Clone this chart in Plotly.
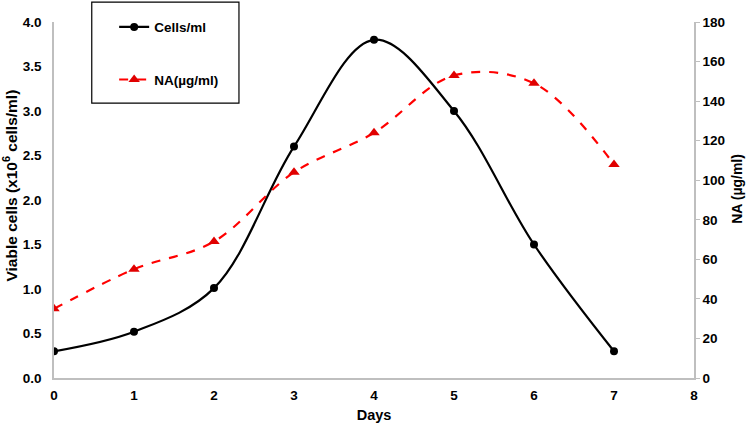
import plotly.graph_objects as go

days = [0, 1, 2, 3, 4, 5, 6, 7]
cells = [0.30, 0.52, 1.01, 2.60, 3.80, 3.00, 1.50, 0.30]
na = [35, 55, 69, 104, 124, 153, 149, 108]

x_ticks = [0, 1, 2, 3, 4, 5, 6, 7, 8]
left_ticks = [0.0, 0.5, 1.0, 1.5, 2.0, 2.5, 3.0, 3.5, 4.0]
right_ticks = [0, 20, 40, 60, 80, 100, 120, 140, 160, 180]

font_family = "Liberation Sans, Arial, sans-serif"
axis_color = "#bfbfbf"

fig = go.Figure()
fig.add_trace(go.Scatter(
    x=days, y=cells, name="<b>Cells/ml</b>", mode="lines+markers",
    line=dict(color="black", width=2.2, shape="spline", smoothing=1),
    marker=dict(symbol="circle", size=8, color="black"),
    legendgroup="a", yaxis="y"))
fig.add_trace(go.Scatter(
    x=days, y=na, name="<b>NA(µg/ml)</b>", mode="lines+markers",
    line=dict(color="#ff0000", width=2.2, dash="dash", shape="spline", smoothing=1),
    marker=dict(symbol="triangle-up", size=10, color="#e00000"),
    legendgroup="b", yaxis="y2"))

tickfont = dict(family=font_family, size=13.5, color="black")

fig.update_layout(
    width=749, height=423,
    margin=dict(l=54, r=55, t=22, b=45, autoexpand=False),
    paper_bgcolor="white", plot_bgcolor="white",
    showlegend=True,
    legend=dict(x=0.094, y=1.029, xanchor="left", yanchor="top",
                bgcolor="rgba(0,0,0,0)", borderwidth=0,
                traceorder="grouped", tracegroupgap=32,
                font=dict(family=font_family, size=13.5, color="black")),
    xaxis=dict(range=[0, 8], tickvals=x_ticks, ticktext=[f"<b>{v}</b>" for v in x_ticks],
               showgrid=False, zeroline=False, showline=True, linecolor=axis_color,
               linewidth=1.5, ticks="", tickfont=tickfont, automargin=False,
               ticklabelstandoff=4,
               title=dict(text="<b>Days</b>", font=dict(family=font_family, size=14.5, color="black"),
                          standoff=8)),
    yaxis=dict(range=[0, 4], tickvals=left_ticks,
               ticktext=[f"<b>{v:.1f}</b>" for v in left_ticks],
               showgrid=False, zeroline=False, showline=True, linecolor=axis_color,
               linewidth=1.5, ticks="", tickfont=tickfont, automargin=False,
               ticklabelstandoff=8),
    yaxis2=dict(range=[0, 180], tickvals=right_ticks,
                ticktext=[f"<b>{v}</b>" for v in right_ticks],
                overlaying="y", side="right",
                showgrid=False, zeroline=False, showline=True, linecolor=axis_color,
                linewidth=1.5, ticks="outside", ticklen=4, tickcolor=axis_color,
                tickfont=tickfont, automargin=False),
    annotations=[
        dict(text="<b>Viable cells (x10<sup>6</sup> cells/ml)</b>", textangle=-90,
             xref="paper", yref="paper", x=-0.068, y=0.542,
             xanchor="center", yanchor="middle", showarrow=False,
             font=dict(family=font_family, size=15.5, color="black")),
        dict(text="<b>NA (µg/ml)</b>", textangle=-90,
             xref="paper", yref="paper", x=1.067, y=0.531,
             xanchor="center", yanchor="middle", showarrow=False,
             font=dict(family=font_family, size=14, color="black")),
    ],
    shapes=[dict(type="rect", xref="paper", yref="paper",
                 x0=0.059, x1=0.289, y0=0.772, y1=1.056,
                 line=dict(color="black", width=1.2), fillcolor="rgba(0,0,0,0)")],
)

fig.write_html("out.html", config={"displayModeBar": False},
               post_script="document.body.style.margin='0';document.body.style.overflow='hidden';")
